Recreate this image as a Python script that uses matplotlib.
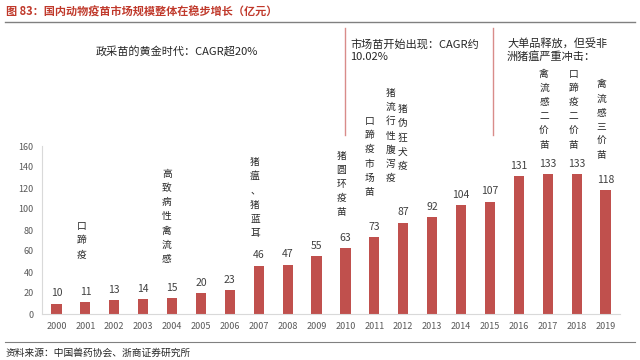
import numpy as np
import matplotlib.pyplot as plt
from matplotlib.lines import Line2D

plt.rcParams["font.family"] = ["Noto Sans CJK SC", "DejaVu Sans"]

years = [str(y) for y in range(2000, 2020)]
values = [10, 11, 13, 14, 15, 20, 23, 46, 47, 55, 63, 73, 87, 92, 104, 107, 131, 133, 133, 118]

# vertical event labels: (text, x position in bar units, y centre in data units)
events = [
    ("口蹄疫", 0.86, 70),
    ("高致病性禽流感", 3.82, 93),
    ("猪瘟、猪蓝耳", 6.87, 111),
    ("猪圆环疫苗", 9.86, 124),
    ("口蹄疫市场苗", 10.83, 150),
    ("猪流行性腹泻疫", 11.56, 170),
    ("猪伪狂犬疫", 11.98, 168),
    ("禽流感二价苗", 16.87, 195),
    ("口蹄疫二价苗", 17.88, 195),
    ("禽流感三价苗", 18.85, 185),
]

bar_color = "#C0504D"
red_title = "#C0392B"

fig = plt.figure(figsize=(6.4, 3.6), dpi=100)
ax = fig.add_axes([42 / 640, 1 - 314 / 360, 578 / 640, 168 / 360])

x_pos = np.arange(len(years))
ax.bar(x_pos, values, width=0.35, color=bar_color)
for x, v in zip(x_pos, values):
    ax.text(x, v + 5, str(v), ha="center", va="bottom", fontsize=7.5, color="#404040")

ax.set_xlim(-0.5, len(years) - 0.5)
ax.set_ylim(0, 160)
ax.set_yticks(range(0, 161, 20))
ax.set_xticks(x_pos)
ax.set_xticklabels(years)
ax.tick_params(length=0, labelsize=6.5, colors="#595959", pad=6)
for s in ["top", "right"]:
    ax.spines[s].set_visible(False)
for s in ["left", "bottom"]:
    ax.spines[s].set_color("#D9D9D9")

for txt, x, y in events:
    ax.text(x, y, "\n".join(txt), ha="center", va="center", fontsize=7,
            linespacing=1.52, color="#262626", clip_on=False)

# era separators
ax.axvline(10.0, ymin=1.065, ymax=1.70, color="#D98C8A", lw=1, clip_on=False)
ax.axvline(15.1, ymin=1.065, ymax=1.70, color="#D98C8A", lw=1, clip_on=False)

fig.text(177 / 640, 1 - 51 / 360, "政采苗的黄金时代：CAGR超20%", ha="center", va="center",
         fontsize=8, color="#262626")
fig.text(350 / 640, 1 - 50 / 360, "市场苗开始出现：CAGR约\n10.02%", ha="left", va="center",
         fontsize=8, color="#262626", linespacing=1.3)
fig.text(507 / 640, 1 - 50 / 360, "大单品释放，但受非\n洲猪瘟严重冲击：", ha="left", va="center",
         fontsize=8, color="#262626", linespacing=1.3)

# title and frame lines
fig.text(6 / 640, 1 - 12 / 360, "图 83：国内动物疫苗市场规模整体在稳步增长（亿元）", ha="left", va="center",
         fontsize=8, color=red_title, fontweight="bold")
fig.add_artist(Line2D([5 / 640, 635 / 640], [1 - 22 / 360, 1 - 22 / 360], color="#808080", lw=1))
fig.add_artist(Line2D([5 / 640, 635 / 640], [1 - 342 / 360, 1 - 342 / 360], color="#808080", lw=0.8))
fig.text(6 / 640, 1 - 353 / 360, "资料来源：中国兽药协会、浙商证券研究所", ha="left", va="center",
         fontsize=7, color="#262626")

plt.savefig("out.png", dpi=100)
